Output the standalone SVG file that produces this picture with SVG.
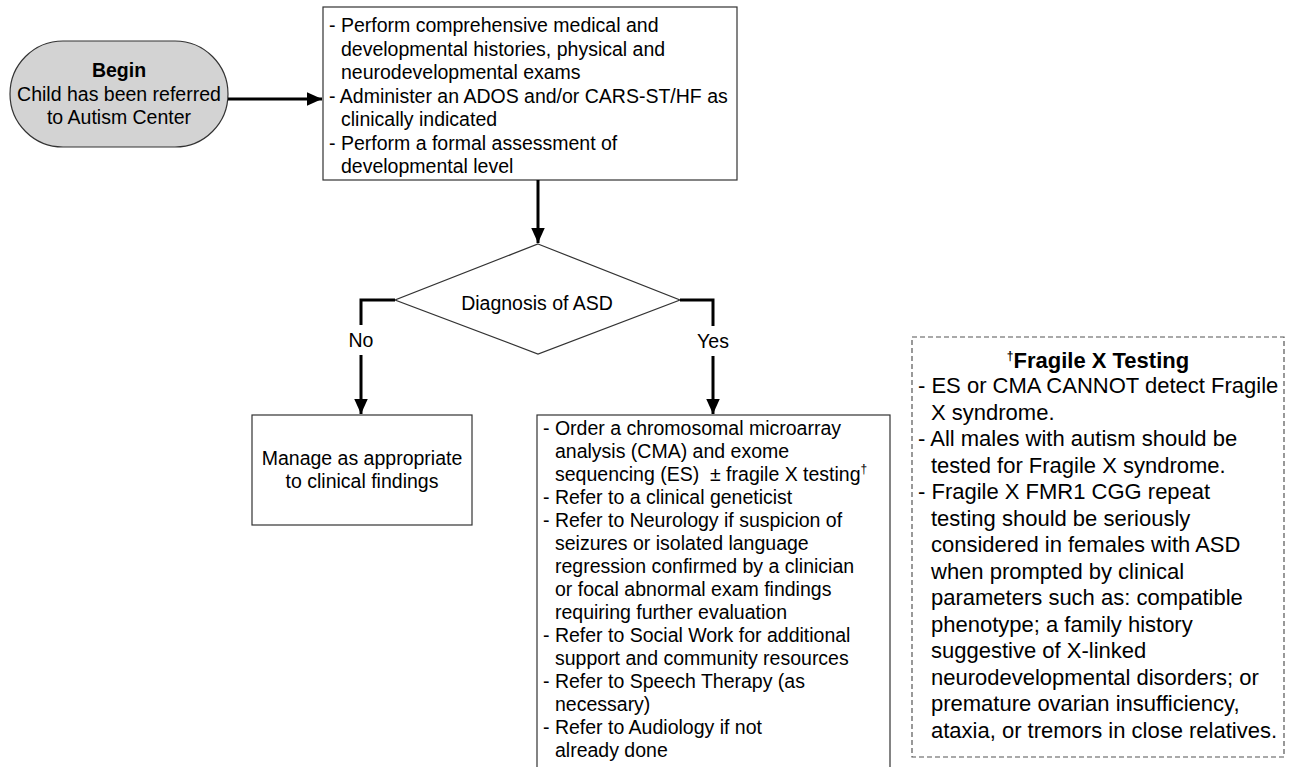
<svg xmlns="http://www.w3.org/2000/svg" width="1292" height="767" viewBox="0 0 1292 767">
<style>
text{font-family:"Liberation Sans",Arial,sans-serif;fill:#000;}
.t{font-size:19.5px;}
.f{font-size:22px;}
.b{font-weight:bold;}
.box{fill:#fff;stroke:#333;stroke-width:1.2;}
.conn{fill:none;stroke:#000;stroke-width:3;}
.sup{font-size:12px;}
</style>
<defs>
<marker id="ah" viewBox="0 0 10 10" refX="10" refY="5" markerWidth="5" markerHeight="4.5" markerUnits="strokeWidth" orient="auto" preserveAspectRatio="none">
<path d="M0,0 L10,5 L0,10 Z" fill="#000"/>
</marker>
</defs>
<rect width="1292" height="767" fill="#fff"/>

<g id="begin">
<rect x="10" y="41" width="218" height="106" rx="53" ry="53" fill="#d3d3d3" stroke="#333" stroke-width="1.2"/>
<text class="t b" x="119" y="77" text-anchor="middle">Begin</text>
<text class="t" x="119" y="101" text-anchor="middle">Child has been referred</text>
<text class="t" x="119" y="124" text-anchor="middle">to Autism Center</text>
</g>

<g id="assess">
<rect class="box" x="323" y="7" width="414" height="173"/>
<text class="t" x="329" y="32">- Perform comprehensive medical and</text>
<text class="t" x="341" y="55.5">developmental histories, physical and</text>
<text class="t" x="341" y="79">neurodevelopmental exams</text>
<text class="t" x="329" y="102.5">- Administer an ADOS and/or CARS-ST/HF as</text>
<text class="t" x="341" y="126">clinically indicated</text>
<text class="t" x="329" y="149.5">- Perform a formal assessment of</text>
<text class="t" x="341" y="173">developmental level</text>
</g>

<g id="decision">
<polygon class="box" points="538,244 680,300 538,354 395,300"/>
<text class="t" x="537" y="310" text-anchor="middle">Diagnosis of ASD</text>
</g>

<g id="manage">
<rect class="box" x="252" y="415" width="220" height="110"/>
<text class="t" x="362" y="465" text-anchor="middle">Manage as appropriate</text>
<text class="t" x="362" y="488" text-anchor="middle">to clinical findings</text>
</g>

<g id="actions">
<rect class="box" x="537" y="415" width="353" height="360"/>
<text class="t" x="543" y="435">- Order a chromosomal microarray</text>
<text class="t" x="555" y="458">analysis (CMA) and exome</text>
<text class="t" x="555" y="481" xml:space="preserve">sequencing (ES)  ± fragile X testing<tspan class="sup" dy="-8">†</tspan></text>
<text class="t" x="543" y="504">- Refer to a clinical geneticist</text>
<text class="t" x="543" y="527">- Refer to Neurology if suspicion of</text>
<text class="t" x="555" y="550">seizures or isolated language</text>
<text class="t" x="555" y="573">regression confirmed by a clinician</text>
<text class="t" x="555" y="596">or focal abnormal exam findings</text>
<text class="t" x="555" y="619">requiring further evaluation</text>
<text class="t" x="543" y="642">- Refer to Social Work for additional</text>
<text class="t" x="555" y="665">support and community resources</text>
<text class="t" x="543" y="688">- Refer to Speech Therapy (as</text>
<text class="t" x="555" y="711">necessary)</text>
<text class="t" x="543" y="734">- Refer to Audiology if not</text>
<text class="t" x="555" y="757">already done</text>
</g>

<g id="fragilex">
<rect x="912" y="337" width="372" height="420" fill="#fff" stroke="#555" stroke-width="1.2" stroke-dasharray="5,3"/>
<text class="f b" x="1098" y="368" text-anchor="middle"><tspan class="sup" dy="-8">†</tspan><tspan dy="8">Fragile X Testing</tspan></text>
<text class="f" x="918" y="393">- ES or CMA CANNOT detect Fragile</text>
<text class="f" x="931" y="419.5">X syndrome.</text>
<text class="f" x="918" y="446">- All males with autism should be</text>
<text class="f" x="931" y="472.5">tested for Fragile X syndrome.</text>
<text class="f" x="918" y="499">- Fragile X FMR1 CGG repeat</text>
<text class="f" x="931" y="525.5">testing should be seriously</text>
<text class="f" x="931" y="552">considered in females with ASD</text>
<text class="f" x="931" y="578.5">when prompted by clinical</text>
<text class="f" x="931" y="605">parameters such as: compatible</text>
<text class="f" x="931" y="631.5">phenotype; a family history</text>
<text class="f" x="931" y="658">suggestive of X-linked</text>
<text class="f" x="931" y="684.5">neurodevelopmental disorders; or</text>
<text class="f" x="931" y="711">premature ovarian insufficiency,</text>
<text class="f" x="931" y="737.5">ataxia, or tremors in close relatives.</text>
</g>

<g id="connectors">
<path class="conn" d="M228,99 L322,99" marker-end="url(#ah)"/>
<path class="conn" d="M538,180 L538,243" marker-end="url(#ah)"/>
<path class="conn" d="M395,300 L361,300 L361,414" marker-end="url(#ah)"/>
<path class="conn" d="M680,300 L713,300 L713,414" marker-end="url(#ah)"/>
<rect x="346" y="325" width="30" height="30" fill="#fff"/>
<text class="t" x="361" y="347" text-anchor="middle">No</text>
<rect x="695" y="326" width="36" height="30" fill="#fff"/>
<text class="t" x="713" y="348" text-anchor="middle">Yes</text>
</g>
</svg>
